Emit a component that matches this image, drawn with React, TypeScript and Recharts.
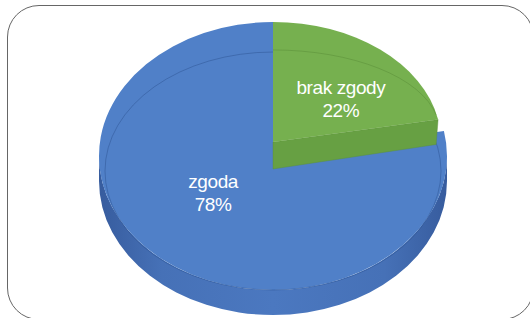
import { PieChart, Pie, Cell } from "recharts";

// ─── Data ─────────────────────────────────────────
const categories = ["zgoda", "brak zgody"];
const values = [78, 22];
const percentLabels = ["78%", "22%"];

const data = categories.map((name, i) => ({ name, value: values[i], pct: percentLabels[i] }));

// first slice ends at 12 o'clock, the second one runs clockwise from there
const START_ANGLE = 90 + (360 * values[0]) / (values[0] + values[1]);

// ─── Look of each slice (3D-ish, Excel style) ─────
const BLUE = "#5080c8";
const GREEN = "#76b04f";

const SLICE_STYLE: Record<
  string,
  { top: string; lift: number; rxScale: number; ryScale: number; labelRx: number; labelRy: number }
> = {
  zgoda: { top: BLUE, lift: 0, rxScale: 1, ryScale: 0.77, labelRx: 0.54, labelRy: 0.235 },
  "brak zgody": { top: GREEN, lift: 14, rxScale: 0.966, ryScale: 0.69, labelRx: 0.612, labelRy: 0.463 },
};

const DEPTH = 25; // side wall of the disc
const CUT = 27; // visible cut face of the raised slice

const toRad = (d: number) => (d * Math.PI) / 180;
const pt = (cx: number, cy: number, rx: number, ry: number, a: number) =>
  `${cx + rx * Math.cos(toRad(a))},${cy - ry * Math.sin(toRad(a))}`;

function wedge(cx: number, cy: number, rx: number, ry: number, sa: number, ea: number) {
  const large = Math.abs(sa - ea) > 180 ? 1 : 0;
  const sweep = sa > ea ? 1 : 0;
  return `M${cx},${cy} L${pt(cx, cy, rx, ry, sa)} A${rx},${ry} 0 ${large} ${sweep} ${pt(cx, cy, rx, ry, ea)} Z`;
}

// side wall only where the arc faces the viewer (180°..360°)
function sideWall(cx: number, cy: number, rx: number, ry: number, sa: number, ea: number) {
  const lo = Math.min(sa, ea);
  const hi = Math.max(sa, ea);
  const parts: string[] = [];
  for (const k of [-360, 0, 360]) {
    const a0 = Math.max(lo, 180 + k);
    const a1 = Math.min(hi, 360 + k);
    if (a1 <= a0) continue;
    const large = a1 - a0 > 180 ? 1 : 0;
    parts.push(
      `M${pt(cx, cy, rx, ry, a0)} A${rx},${ry} 0 ${large} 0 ${pt(cx, cy, rx, ry, a1)}` +
        ` L${pt(cx, cy + DEPTH, rx, ry, a1)} A${rx},${ry} 0 ${large} 1 ${pt(cx, cy + DEPTH, rx, ry, a0)} Z`
    );
  }
  return parts.join(" ");
}

// ─── Sector shape ─────────────────────────────────
function SliceShape(props: any) {
  const { cx, cy, outerRadius, startAngle, endAngle } = props;
  const name = props.name ?? props.payload?.name;
  const s = SLICE_STYLE[name] ?? SLICE_STYLE.zgoda;
  const rx = outerRadius * s.rxScale;
  const ry = outerRadius * s.ryScale;
  const y0 = cy - s.lift;

  if (s.lift === 0) {
    return (
      <g>
        <defs>
          <linearGradient id="blueSide" x1="0" y1="0" x2="1" y2="0">
            <stop offset="0%" stopColor="#375c9e" />
            <stop offset="18%" stopColor="#4671b7" />
            <stop offset="50%" stopColor="#4b78c0" />
            <stop offset="82%" stopColor="#4671b7" />
            <stop offset="100%" stopColor="#375c9e" />
          </linearGradient>
        </defs>
        <path d={sideWall(cx, y0, rx, ry, startAngle, endAngle)} fill="url(#blueSide)" />
        <path d={wedge(cx, y0, rx, ry, startAngle, endAngle)} fill={s.top} />
        <ellipse
          cx={cx}
          cy={y0 + 15}
          rx={rx - 6}
          ry={ry - 15}
          fill="none"
          stroke="#2a4f8f"
          strokeOpacity={0.45}
          strokeWidth={1}
        />
      </g>
    );
  }

  // raised slice: its radial cut face at the trailing edge shows under it
  const ea = endAngle;
  const rimX = cx + rx * Math.cos(toRad(ea));
  const rimY = y0 - ry * Math.sin(toRad(ea));
  const cut = `M${cx},${y0} L${rimX},${rimY} L${rimX - 2},${rimY + CUT - 2} L${cx},${y0 + CUT} Z`;
  return (
    <g>
      <path d={cut} fill="#67a043" stroke="#5a8e3a" strokeOpacity={0.5} strokeWidth={0.8} />
      <path d={wedge(cx, y0, rx, ry, startAngle, endAngle)} fill={s.top} />
      <path
        d={`M${pt(cx, y0 - 12, rx - 2, ry - 40, startAngle)} A${rx - 2},${ry - 40} 0 0 1 ${pt(cx, y0 - 12, rx - 2, ry - 40, ea)}`}
        fill="none"
        stroke="#4d7f2f"
        strokeOpacity={0.35}
        strokeWidth={1}
      />
    </g>
  );
}

// ─── Labels ───────────────────────────────────────
function renderLabel(props: any) {
  const { cx, cy, midAngle, outerRadius, index } = props;
  const name = categories[index];
  const s = SLICE_STYLE[name];
  const a = toRad(midAngle);
  const x = cx + outerRadius * s.labelRx * Math.cos(a);
  const y = cy - outerRadius * s.labelRy * Math.sin(a);
  return (
    <text
      x={x}
      y={y}
      textAnchor="middle"
      fill="#ffffff"
      fontSize={19}
      letterSpacing={-0.4}
      fontFamily="'Liberation Sans', Arial, sans-serif"
    >
      <tspan x={x}>{name}</tspan>
      <tspan x={x} dy={23}>
        {percentLabels[index]}
      </tspan>
    </text>
  );
}

// ─── Component ────────────────────────────────────
export default function App() {
  return (
    <div
      style={{
        position: "absolute",
        left: 0,
        top: 0,
        width: 530,
        height: 318,
        overflow: "hidden",
        background: "#fff",
      }}
    >
      <div
        style={{
          position: "absolute",
          left: 7,
          top: 5,
          width: 527,
          height: 315,
          boxSizing: "border-box",
          border: "1.5px solid #666",
          borderRadius: 32,
        }}
      />
      <div style={{ position: "absolute", left: 0, top: 0 }}>
        <PieChart width={530} height={318}>
          <Pie
            data={data}
            dataKey="value"
            nameKey="name"
            cx={268}
            cy={151}
            outerRadius={174}
            startAngle={START_ANGLE}
            endAngle={START_ANGLE - 360}
            stroke="none"
            shape={SliceShape}
            label={renderLabel}
            labelLine={false}
            isAnimationActive={false}
          >
            {data.map((d) => (
              <Cell key={d.name} fill={SLICE_STYLE[d.name].top} />
            ))}
          </Pie>
        </PieChart>
      </div>
    </div>
  );
}
